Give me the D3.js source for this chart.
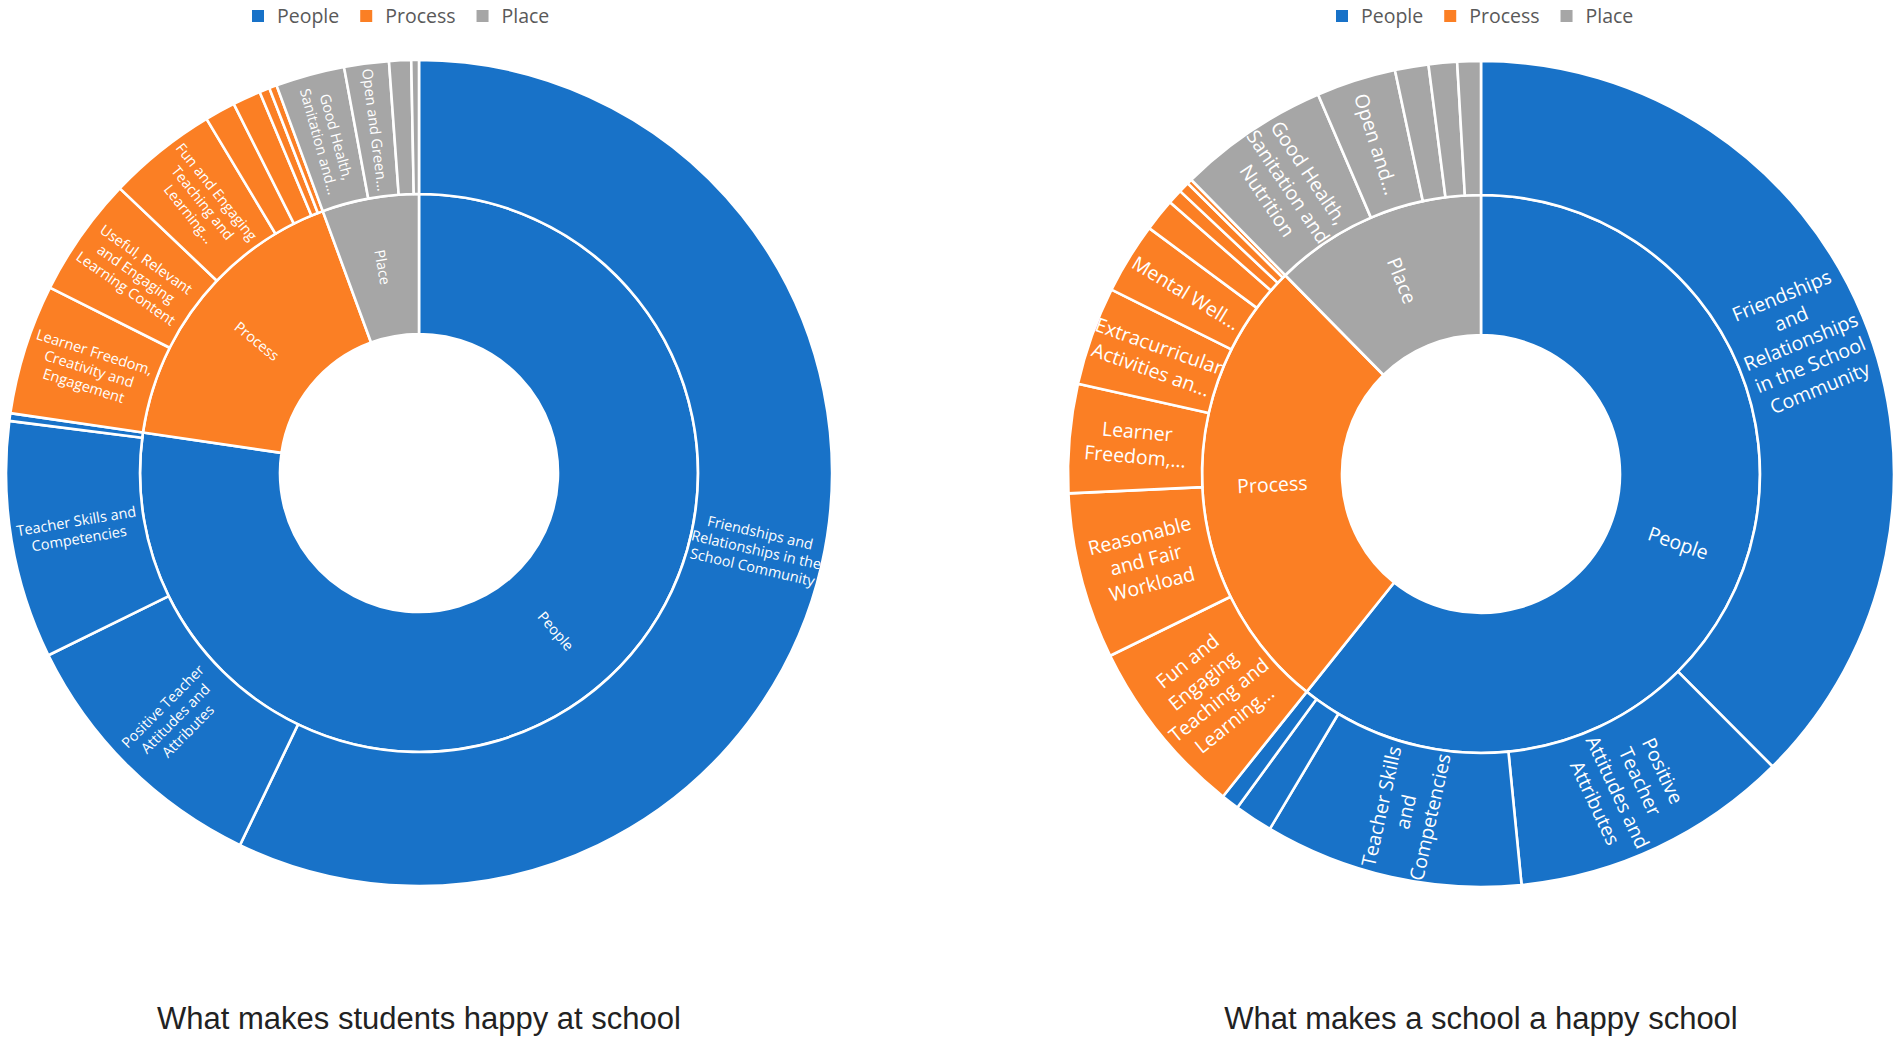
<!DOCTYPE html>
<html>
<head>
<meta charset="utf-8">
<script src="https://cdn.jsdelivr.net/npm/d3@7"></script>
<style>
  body { margin: 0; background: #fff; }
  svg { display: block; }
</style>
</head>
<body>
<svg id="chart" width="1902" height="1043"></svg>
<script>
// top level categories (inner ring)
var groups = ["People", "Process", "Place"];
var groupColors = ["#1872c8", "#fb7f24", "#a6a6a6"];

// chart 1: what makes students happy at school (share of responses, %)
var studentsPeopleLabels = ["Friendships and\nRelationships in the\nSchool Community", "Positive Teacher\nAttitudes and\nAttributes", "Teacher Skills and\nCompetencies", ""];
var studentsPeopleValues = [57.2, 10.6, 9.3, 0.3];
var studentsProcessLabels = ["Learner Freedom,\nCreativity and\nEngagement", "Useful, Relevant\nand Engaging\nLearning Content", "Fun and Engaging\nTeaching and\nLearning...", "", "", "", ""];
var studentsProcessValues = [5.1, 4.7, 4.3, 1.2, 1.1, 0.4, 0.3];
var studentsPlaceLabels = ["Good Health,\nSanitation and...", "Open and Green...", "", ""];
var studentsPlaceValues = [2.7, 1.75, 0.86, 0.3];

// chart 2: what makes a school a happy school (share of responses, %)
var schoolPeopleLabels = ["Friendships\nand\nRelationships\nin the School\nCommunity", "Positive\nTeacher\nAttitudes and\nAttributes", "Teacher Skills\nand\nCompetencies", "", ""];
var schoolPeopleValues = [37.5, 10.9, 10.1, 1.5, 0.7];
var schoolProcessLabels = ["Fun and\nEngaging\nTeaching and\nLearning...", "Reasonable\nand Fair\nWorkload", "Learner\nFreedom,...", "Extracurricular\nActivities an...", "Mental Well...", "", "", "", ""];
var schoolProcessValues = [7.0, 6.5, 4.25, 3.86, 2.78, 1.28, 0.58, 0.42, 0.19];
var schoolPlaceLabels = ["Good Health,\nSanitation and\nNutrition", "Open and...", "", "", ""];
var schoolPlaceValues = [5.92, 3.11, 1.31, 1.11, 0.92];

var svg = d3.select("#chart");
var color = d3.scaleOrdinal(groups, groupColors);
var font = "'Open Sans', 'Noto Sans', sans-serif";

function buildTree(labels, values) {
  return {
    name: "root",
    children: groups.map(function(g, i) {
      return {
        name: g,
        children: labels[i].map(function(l, j) {
          return { name: l, value: values[i][j] };
        })
      };
    })
  };
}

function drawSunburst(cfg) {
  var root = d3.hierarchy(cfg.tree).sum(function(d) { return d.value || 0; });
  d3.partition().size([2 * Math.PI, 1])(root);

  var radius = d3.scaleLinear().domain([1, 2, 3]).range([139, 279, 413]);

  var arc = d3.arc()
    .startAngle(function(d) { return d.x0; })
    .endAngle(function(d) { return d.x1; })
    .innerRadius(function(d) { return radius(d.depth); })
    .outerRadius(function(d) { return radius(d.depth + 1); });

  var g = svg.append("g")
    .attr("transform", "translate(" + cfg.cx + "," + cfg.cy + ")");

  var nodes = root.descendants().filter(function(d) { return d.depth > 0; });

  g.selectAll("path")
    .data(nodes)
    .join("path")
    .attr("d", arc)
    .attr("fill", function(d) {
      var top = d.depth === 1 ? d : d.parent;
      return color(top.data.name);
    })
    .attr("stroke", "#fff")
    .attr("stroke-width", 2.6)
    .attr("stroke-linejoin", "round");

  // labels, radial like excel does it
  var labelled = nodes.filter(function(d) { return d.data.name; });
  labelled.forEach(function(d) {
    var a = (d.x0 + d.x1) / 2;
    var deg = a * 180 / Math.PI;
    var r = (radius(d.depth) + radius(d.depth + 1)) / 2;
    var rot = deg < 180 ? deg - 90 : deg - 270;
    var fs = d.depth === 1 ? cfg.innerFont : cfg.outerFont;
    var lh = fs * cfg.lineHeight;
    var lines = d.data.name.split("\n");

    var t = g.append("text")
      .attr("transform", "translate(" + (Math.sin(a) * r) + "," + (-Math.cos(a) * r) + ") rotate(" + rot + ")")
      .attr("text-anchor", "middle")
      .attr("fill", "#fff")
      .attr("font-family", font)
      .attr("font-size", fs + "px");

    lines.forEach(function(line, i) {
      t.append("tspan")
        .attr("x", 0)
        .attr("y", (i - (lines.length - 1) / 2) * lh)
        .attr("dy", "0.35em")
        .text(line);
    });
  });

  // legend on top
  var leg = svg.append("g").attr("transform", "translate(" + cfg.legendX + ",0)");
  var x = 0;
  groups.forEach(function(name) {
    leg.append("rect")
      .attr("x", x).attr("y", 10)
      .attr("width", 12).attr("height", 12)
      .attr("fill", color(name));
    var txt = leg.append("text")
      .attr("x", x + 25).attr("y", 23)
      .attr("fill", "#595959")
      .attr("font-family", font)
      .attr("font-size", "19.5px")
      .text(name);
    x += 25 + txt.node().getComputedTextLength() + 21;
  });

  svg.append("text")
    .attr("x", cfg.cx)
    .attr("y", 1029)
    .attr("text-anchor", "middle")
    .attr("fill", "#222")
    .attr("font-family", "'Liberation Sans', Arial, sans-serif")
    .attr("font-size", "31px")
    .text(cfg.title);
}

drawSunburst({
  tree: buildTree([studentsPeopleLabels, studentsProcessLabels, studentsPlaceLabels],
                  [studentsPeopleValues, studentsProcessValues, studentsPlaceValues]),
  cx: 419, cy: 473,
  innerFont: 14.5, outerFont: 14.5, lineHeight: 1.22,
  legendX: 252,
  title: "What makes students happy at school"
});

drawSunburst({
  tree: buildTree([schoolPeopleLabels, schoolProcessLabels, schoolPlaceLabels],
                  [schoolPeopleValues, schoolProcessValues, schoolPlaceValues]),
  cx: 1481, cy: 474,
  innerFont: 19.5, outerFont: 19.5, lineHeight: 1.28,
  legendX: 1336,
  title: "What makes a school a happy school"
});
</script>
</body>
</html>
